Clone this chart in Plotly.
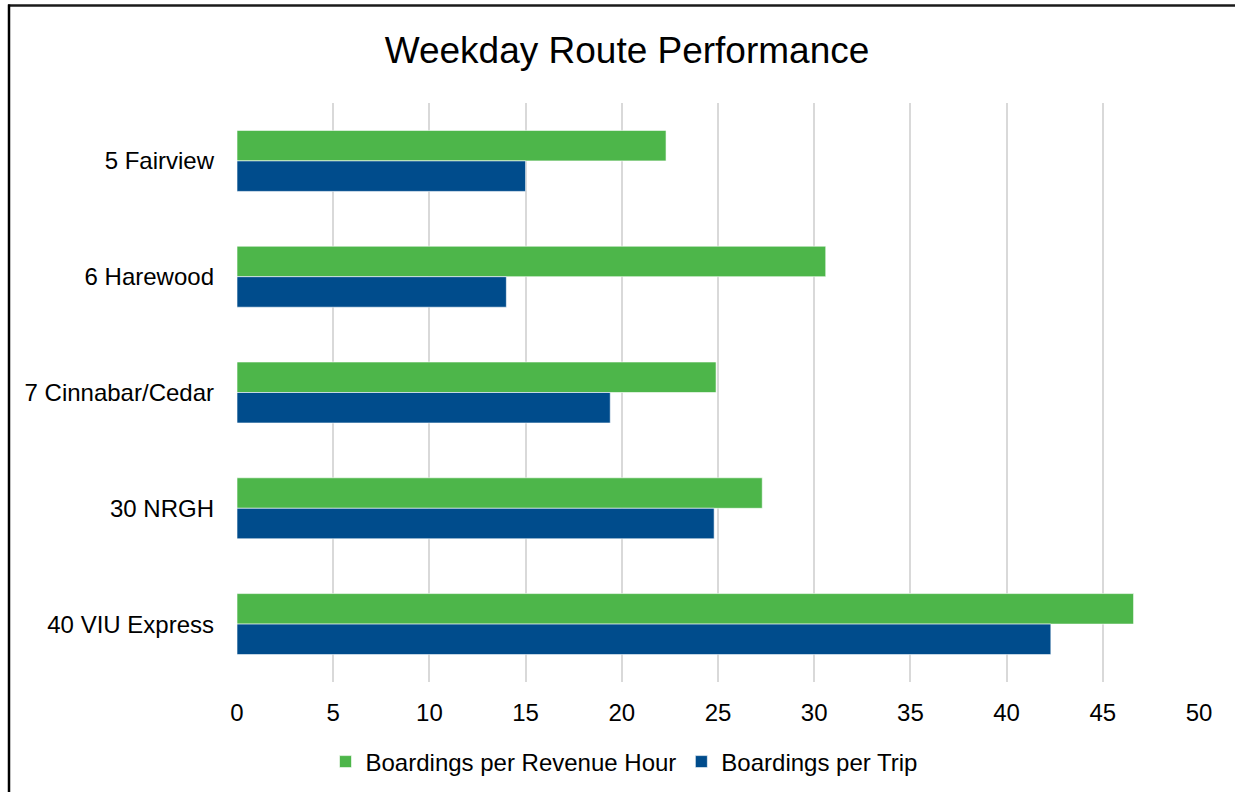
import plotly.graph_objects as go

routes = ["5 Fairview", "6 Harewood", "7 Cinnabar/Cedar", "30 NRGH", "40 VIU Express"]
per_revenue_hour = [22.3, 30.6, 24.9, 27.3, 46.6]
per_trip = [15.0, 14.0, 19.4, 24.8, 42.3]
x_ticks = [0, 5, 10, 15, 20, 25, 30, 35, 40, 45, 50]

W, H = 1235, 792
L, R, T, B = 237, 1199, 103, 682

fig = go.Figure()
fig.add_trace(go.Bar(
    y=routes, x=per_revenue_hour, orientation="h",
    name="Boardings per Revenue Hour",
    marker=dict(color="#4db64a", line=dict(color="rgba(255,255,255,0.6)", width=1)),
))
fig.add_trace(go.Bar(
    y=routes, x=per_trip, orientation="h",
    name="Boardings per Trip",
    marker=dict(color="#004c8c", line=dict(color="rgba(255,255,255,0.6)", width=1)),
))

def px_x(p):
    return (p - L) / (R - L)

def px_y(p):
    return (B - p) / (B - T)

shapes = [
    dict(type="line", xref="paper", yref="paper",
         x0=px_x(8), x1=px_x(1236), y0=px_y(5.5), y1=px_y(5.5),
         line=dict(color="#1a1a1a", width=2.5)),
    dict(type="line", xref="paper", yref="paper",
         x0=px_x(9), x1=px_x(9), y0=px_y(4.5), y1=px_y(793),
         line=dict(color="#000000", width=2.5)),
]

fig.update_layout(
    width=W, height=H,
    margin=dict(l=L, r=W - R, t=T, b=H - B, pad=0),
    paper_bgcolor="white", plot_bgcolor="white",
    barmode="group", bargap=0.473, bargroupgap=0,
    font=dict(family="Liberation Sans, Arial, sans-serif", size=24, color="#000000"),
    title=dict(text="Weekday Route Performance", x=627 / W, xref="container", xanchor="center",
               y=1 - 50 / H, yref="container", yanchor="middle",
               font=dict(size=37, color="#000000")),
    xaxis=dict(range=[0, 50], tickvals=x_ticks, showgrid=True, gridcolor="#d9d9d9", gridwidth=2,
               zeroline=False, showline=False, ticks="", ticklabelstandoff=14),
    yaxis=dict(autorange="reversed", showgrid=False, zeroline=False, showline=False, ticks="",
               ticklabelstandoff=22),
    legend=dict(orientation="h", x=624 / W, xref="container", xanchor="center",
                y=1 - 762 / H, yref="container", yanchor="middle",
                font=dict(size=24), itemwidth=30, traceorder="normal"),
    shapes=shapes,
    showlegend=True,
)

fig.write_html("out.html", config={"displayModeBar": False},
               post_script="document.body.style.margin='0';")
